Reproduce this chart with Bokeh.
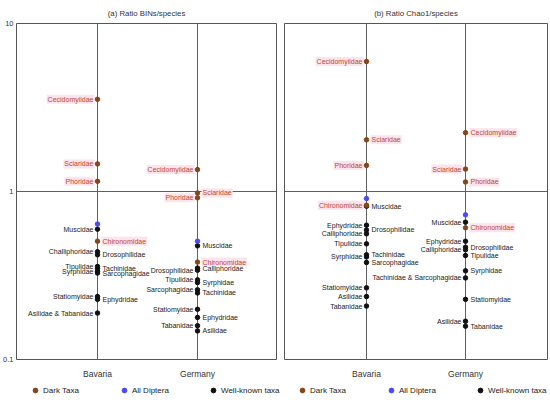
from bokeh.plotting import figure
from bokeh.layouts import row, column
from bokeh.models import ColumnDataSource, FixedTicker, Legend, LegendItem, Range1d
from bokeh.core.properties import value
from bokeh.embed import file_html
from bokeh.resources import INLINE

regions = ["Bavaria", "Germany"]
group_keys = ["dark", "all", "known"]
group_names = ["Dark Taxa", "All Diptera", "Well-known taxa"]
y_ticks = [0.1, 1, 10]
y_tick_labels = ["0.1", "1", "10"]

# ---------------- (a) Ratio BINs/species ----------------
a_region = ["Bavaria"] * 15 + ["Germany"] * 16
a_taxon = [
    "Cecidomyiidae", "Sciaridae", "Phoridae", "", "Muscidae", "Chironomidae",
    "Challiphoridae", "Drosophilidae", "Tipulidae", "Tachinidae", "Syrphidae",
    "Sarcophagidae", "Statiomyidae", "Ephydridae", "Asilidae & Tabanidae",
    "Cecidomyiidae", "Sciaridae", "Phoridae", "", "Muscidae", "Chironomidae",
    "Calliphoridae", "Drosophilidae", "Tipulidae", "Syrphidae", "Sarcophagidae",
    "Tachinidae", "Statiomyidae", "Ephydridae", "Tabanidae", "Asilidae",
]
a_group = [
    "dark", "dark", "dark", "all", "known", "dark", "known", "known", "known",
    "known", "known", "known", "known", "known", "known",
    "dark", "dark", "dark", "all", "known", "dark", "known", "known", "known",
    "known", "known", "known", "known", "known", "known", "known",
]
a_ratio = [
    3.54, 1.46, 1.15, 0.64, 0.597, 0.506, 0.438, 0.42, 0.358, 0.348, 0.334,
    0.327, 0.237, 0.228, 0.189,
    1.35, 0.98, 0.917, 0.506, 0.475, 0.38, 0.35, 0.34, 0.298, 0.287, 0.26,
    0.249, 0.199, 0.178, 0.159, 0.148,
]
a_side = ["L", "L", "L", "", "L", "R", "L", "R", "L", "R", "L", "R", "L", "R", "L",
          "L", "R", "L", "", "R", "R", "R", "L", "L", "R", "L", "R", "L", "R", "L", "R"]

# ---------------- (b) Ratio Chao1/species ----------------
b_region = ["Bavaria"] * 16 + ["Germany"] * 15
b_taxon = [
    "Cecidomyiidae", "Sciaridae", "Phoridae", "", "Chironomidae", "Muscidae",
    "Ephydridae", "Drosophilidae", "Calliphoridae", "Tipulidae", "Tachinidae",
    "Syrphidae", "Sarcophagidae", "Statiomyidae", "Asilidae", "Tabanidae",
    "Cecidomyiidae", "Sciaridae", "Phoridae", "", "Muscidae", "Chironomidae",
    "Ephydridae", "Drosophilidae", "Calliphoridae", "Tipulidae", "Syrphidae",
    "Tachinidae & Sarcophagidae", "Statiomyidae", "Asilidae", "Tabanidae",
]
b_group = [
    "dark", "dark", "dark", "all", "dark", "known", "known", "known", "known",
    "known", "known", "known", "known", "known", "known", "known",
    "dark", "dark", "dark", "all", "known", "dark", "known", "known", "known",
    "known", "known", "known", "known", "known", "known",
]
b_ratio = [
    5.94, 2.03, 1.43, 0.908, 0.829, 0.818, 0.63, 0.59, 0.56, 0.488, 0.42,
    0.408, 0.378, 0.267, 0.237, 0.208,
    2.24, 1.36, 1.14, 0.726, 0.657, 0.608, 0.506, 0.466, 0.45, 0.416, 0.337,
    0.306, 0.228, 0.169, 0.158,
]
b_side = ["L", "R", "L", "", "L", "R", "L", "R", "L", "L", "R", "L", "R", "L", "L", "L",
          "R", "L", "R", "", "L", "R", "L", "R", "L", "R", "R", "L", "R", "L", "R"]

FONT = "Liberation Sans"
DOT = {"dark": "#84461c", "all": "#4b4bf2", "known": "#111111"}
LABEL = {"dark": "#bb4a32", "known": "#222222"}
HIGHLIGHT = "#fde3ec"
MAIN_H = 381
LEG_H = 19


def make_panel(title, region, taxon, group, ratio, side, width, show_y,
               border_left, border_right, x_start, x_end):
    p = figure(width=width, height=MAIN_H, output_backend="svg", toolbar_location=None,
               x_range=Range1d(x_start, x_end), y_range=Range1d(0.1, 10),
               y_axis_type="log", min_border_left=border_left,
               min_border_right=border_right, min_border_top=23, min_border_bottom=22)
    p.title.text = title
    p.title.align = "center"
    p.title.vertical_align = "middle"
    p.title.text_font = FONT
    p.title.text_font_size = "7.8px"
    p.title.text_font_style = "normal"
    p.title.text_color = "#333333"
    p.outline_line_color = "#555555"
    p.outline_line_width = 1
    p.background_fill_color = "white"
    p.border_fill_color = "white"

    p.xaxis.ticker = FixedTicker(ticks=list(range(len(regions))))
    p.xaxis.major_label_overrides = {i: r for i, r in enumerate(regions)}
    p.xaxis.major_label_text_font = FONT
    p.xaxis.major_label_text_font_size = "8.5px"
    p.xaxis.major_label_text_color = "#333333"
    p.xaxis.major_label_standoff = 9

    p.yaxis.ticker = FixedTicker(ticks=y_ticks)
    p.yaxis.major_label_overrides = dict(zip(y_ticks, y_tick_labels))
    p.yaxis.major_label_text_font = FONT
    p.yaxis.major_label_text_font_size = "7.5px"
    p.yaxis.major_label_text_color = "#333333"
    p.yaxis.major_label_standoff = 3
    for ax in (p.xaxis, p.yaxis):
        ax.axis_line_color = None
        ax.major_tick_line_color = None
        ax.minor_tick_line_color = None
        ax.major_tick_out = 0
        ax.major_tick_in = 0
        ax.minor_tick_out = 0
    p.yaxis.visible = show_y

    p.xgrid.ticker = FixedTicker(ticks=list(range(len(regions))))
    p.ygrid.ticker = FixedTicker(ticks=[1])
    for g in (p.xgrid, p.ygrid):
        g.grid_line_color = "#606060"
        g.grid_line_width = 1
        g.grid_line_alpha = 1

    xs = [regions.index(r) for r in region]

    lab = dict(x=[], y=[], text=[], align=[], xoff=[], color=[], bga=[])
    for x, t, g, v, s in zip(xs, taxon, group, ratio, side):
        if not t:
            continue
        lab["x"].append(x)
        lab["y"].append(v)
        lab["text"].append(t)
        lab["align"].append("right" if s == "L" else "left")
        lab["xoff"].append(-3 if s == "L" else 4)
        lab["color"].append(LABEL[g])
        lab["bga"].append(1 if g == "dark" else 0)
    p.text(x="x", y="y", text="text", source=ColumnDataSource(lab),
           text_align="align", x_offset="xoff", text_baseline="middle",
           text_color="color", text_font=value(FONT), text_font_size=value("7px"),
           background_fill_color=HIGHLIGHT, background_fill_alpha="bga", padding=1)

    for g in ["known", "dark", "all"]:
        src = ColumnDataSource(dict(
            x=[x for x, gg in zip(xs, group) if gg == g],
            y=[v for v, gg in zip(ratio, group) if gg == g]))
        p.scatter(x="x", y="y", source=src, size=4.5,
                  fill_color=DOT[g], line_color=DOT[g])
    return p


def make_legend(width, border_left):
    f = figure(width=width, height=LEG_H, output_backend="svg", toolbar_location=None,
               x_range=Range1d(0, 1), y_range=Range1d(0, 1),
               min_border_left=border_left, min_border_right=0,
               min_border_top=3, min_border_bottom=0)
    f.axis.visible = False
    f.grid.visible = False
    f.outline_line_color = None
    f.background_fill_color = "white"
    f.border_fill_color = "white"
    items = []
    for key, name in zip(group_keys, group_names):
        # a single off-range point so that the legend has a glyph to draw
        r = f.scatter(x="x", y="y", source=ColumnDataSource(dict(x=[5], y=[5])),
                      size=5, fill_color=DOT[key], line_color=DOT[key])
        items.append(LegendItem(label=name, renderers=[r]))
    lg = Legend(items=items, orientation="horizontal", location="top_left")
    lg.label_text_font = FONT
    lg.label_text_font_size = "8px"
    lg.label_text_color = "#222222"
    lg.glyph_width = 12
    lg.glyph_height = 12
    lg.label_height = 12
    lg.label_width = 51
    lg.label_standoff = 2
    lg.spacing = 24
    lg.padding = 2
    lg.margin = 0
    lg.border_line_color = None
    lg.background_fill_alpha = 0
    f.add_layout(lg)
    return f


p1 = make_panel("(a) Ratio BINs/species", a_region, a_taxon, a_group, a_ratio, a_side,
                280, True, 16, 4, -0.81, 1.79)
p2 = make_panel("(b) Ratio Chao1/species", b_region, b_taxon, b_group, b_ratio, b_side,
                270, False, 4, 3, -0.828, 1.828)
l1 = make_legend(280, 29)
l2 = make_legend(270, 16)

layout = column(row(p1, p2), row(l1, l2))
open("out.html", "w").write(file_html(layout, INLINE))
